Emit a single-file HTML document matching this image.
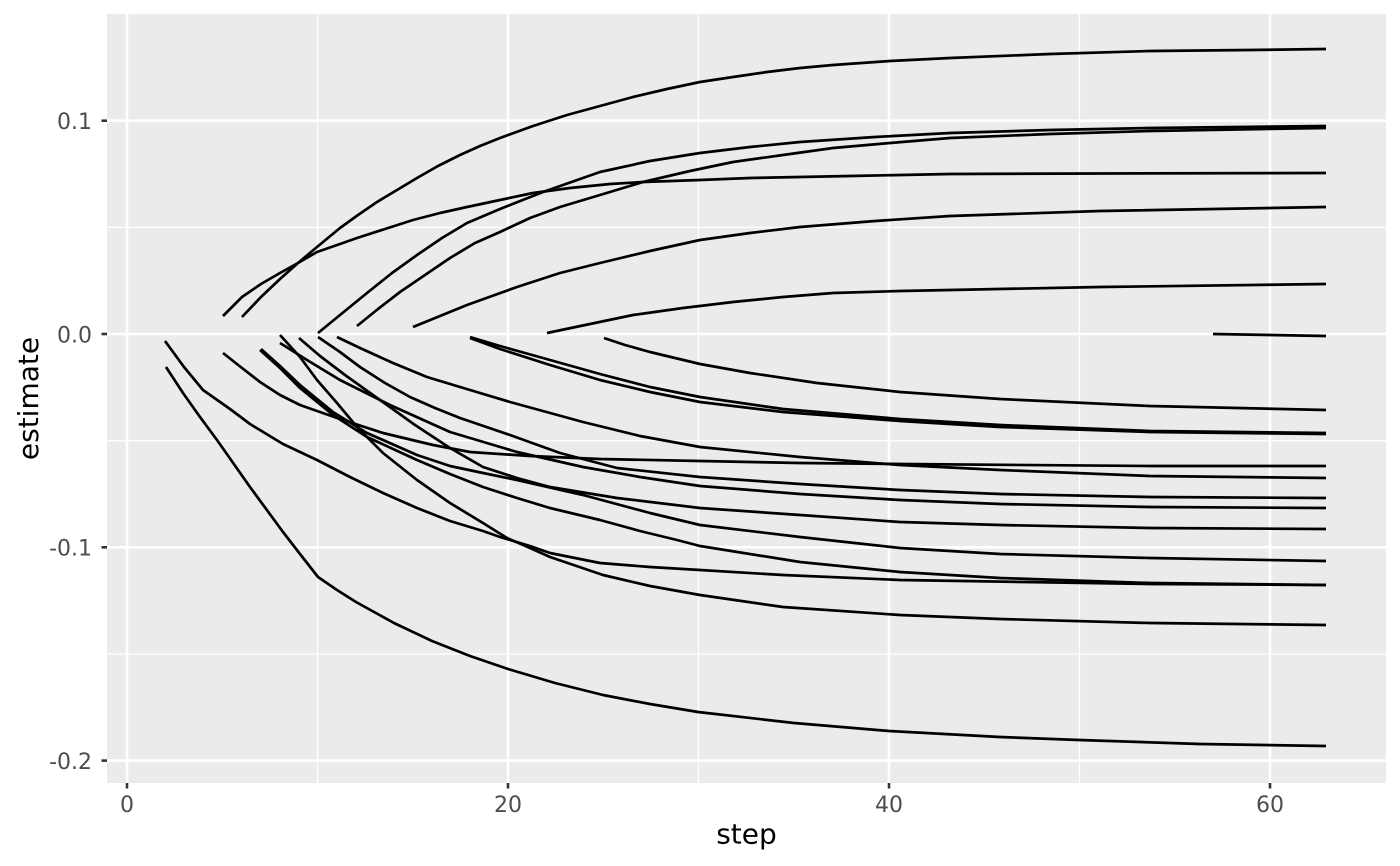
<!DOCTYPE html>
<html>
<head>
<meta charset="utf-8">
<style>
  html, body { margin: 0; padding: 0; background: #ffffff; }
  svg { display: block; }
  .tick { font-family: "DejaVu Sans", "Liberation Sans", sans-serif; font-size: 22px; fill: #4D4D4D; }
  .title { font-family: "DejaVu Sans", "Liberation Sans", sans-serif; font-size: 28px; fill: #000000; }
  .ln { fill: none; stroke: #000000; stroke-width: 2.7; stroke-linejoin: round; stroke-linecap: butt; }
</style>
</head>
<body>
<svg width="1400" height="866" viewBox="0 0 1400 866" xmlns="http://www.w3.org/2000/svg">
  <rect x="0" y="0" width="1400" height="866" fill="#ffffff"/>
  <rect x="107" y="14" width="1279" height="769" fill="#EBEBEB"/>

  <!-- minor grid -->
  <g stroke="#ffffff" stroke-width="1.3">
    <line x1="107" y1="227.4" x2="1386" y2="227.4"/>
    <line x1="107" y1="440.7" x2="1386" y2="440.7"/>
    <line x1="107" y1="654" x2="1386" y2="654"/>
    <line x1="317.5" y1="14" x2="317.5" y2="783"/>
    <line x1="698.5" y1="14" x2="698.5" y2="783"/>
    <line x1="1079.5" y1="14" x2="1079.5" y2="783"/>
  </g>
  <!-- major grid -->
  <g stroke="#ffffff" stroke-width="2.6">
    <line x1="107" y1="120.7" x2="1386" y2="120.7"/>
    <line x1="107" y1="334" x2="1386" y2="334"/>
    <line x1="107" y1="547.3" x2="1386" y2="547.3"/>
    <line x1="107" y1="760.6" x2="1386" y2="760.6"/>
    <line x1="127" y1="14" x2="127" y2="783"/>
    <line x1="508" y1="14" x2="508" y2="783"/>
    <line x1="889" y1="14" x2="889" y2="783"/>
    <line x1="1270" y1="14" x2="1270" y2="783"/>
  </g>

  <!-- positive lines -->
  <polyline class="ln" points="242,317 261,297 280,279 298,263 317,247 340,228 358,215 377,202 397,190 417,178 438,166 460,155 480,146 500,138 533,126 567,115 600,106 633,97 667,89 700,82 733,77 767,72 800,68 833,65 890,61 950,58 1050,54 1150,51 1250,50 1326,49"/>
  <polyline class="ln" points="223,316 242,297 261,284 280,273 298,263 317,252 340,244 357,238 385,229 413,220 440,213 467,207 500,200 533,193 570,188 610,184 643,182 700,180 750,178 850,176 950,174 1100,173.5 1326,173"/>
  <polyline class="ln" points="318,333 340,315 367,293 392,273 417,255 442,238 467,223 500,209 543,192 600,172 650,161 700,153 750,147 800,142 875,137 950,133 1050,130 1150,128 1326,126"/>
  <polyline class="ln" points="357,326 378,309 400,292 425,275 450,258 475,243 500,232 530,218 560,207 600,195 643,182 690,171 733,162 783,155 833,148 890,143 950,138 1050,134 1150,131 1326,128"/>
  <polyline class="ln" points="413,327 440,316 467,305 492,296 517,287 560,273 600,263 650,251 700,240 750,233 800,227 875,221 950,216 1100,211 1326,207"/>
  <polyline class="ln" points="547,333 590,324 633,315 683,308 733,302 783,297 833,293 900,291 950,290 1100,287 1326,284"/>
  <polyline class="ln" points="1213,334 1270,335 1326,336"/>

  <!-- negative lines -->
  <polyline class="ln" points="604,338 625,345 650,352 675,358 700,364 750,373 817,383 900,392 1000,399 1150,406 1326,410"/>
  <polyline class="ln" points="470,337 500,346 550,360 600,374 650,387 700,397 783,409 900,419 1000,425 1150,431 1326,433"/>
  <polyline class="ln" points="470,338 500,349 550,365 600,380 650,392 700,402 783,412 900,421 1000,427 1150,432 1326,434"/>
  <polyline class="ln" points="337,337 360,348 393,363 427,377 460,387 510,402 583,422 640,436 700,447 800,457 900,465 1000,470 1150,476 1326,478"/>
  <polyline class="ln" points="318,337 340,352 360,367 385,383 410,397 435,408 460,418 510,435 560,453 617,468 700,477 800,484 900,490 1000,494 1150,497 1326,498"/>
  <polyline class="ln" points="280,343 307,360 340,380 390,405 450,432 517,452 583,467 640,477 700,486 800,494 900,500 1000,504 1150,507 1326,508"/>
  <polyline class="ln" points="299,338 320,356 345,375 380,400 415,425 450,448 483,467 517,478 550,487 617,498 700,508 800,515 900,522 1000,525 1150,528 1326,529"/>
  <polyline class="ln" points="261,349 280,366 300,385 333,412 367,433 417,455 450,466 483,473 517,480 583,495 650,513 700,525 800,537 900,548 1000,554 1150,558 1326,561"/>
  <polyline class="ln" points="260,350 280,368 300,388 333,415 367,437 417,460 450,474 483,487 517,498 550,508 600,520 640,531 677,540 700,546 800,562 900,572 1000,578 1150,583 1326,585"/>
  <polyline class="ln" points="223,353 242,368 260,382 280,395 300,405 337,418 383,433 433,445 470,452 530,456 600,459 700,461 800,463 900,464 1150,466 1326,466"/>
  <polyline class="ln" points="165,341 184,367 203,390 230,409 250,424 283,444 317,460 350,477 383,493 417,508 450,521 483,531 500,537 530,546 550,553 600,563 650,567 700,570 783,575 900,580 1150,584 1326,585"/>
  <polyline class="ln" points="280,335 300,357 317,380 337,403 357,427 383,453 417,480 450,503 483,523 507,538 530,548 550,557 603,575 650,586 700,595 783,607 900,615 1000,619 1150,623 1326,625"/>
  <polyline class="ln" points="166,367 183,393 200,417 217,440 250,487 283,532 300,554 318,577 337,590 356,602 394,623 432,641 470,656 508,669 555,683 603,695 650,704 698,712 794,723 889,731 1000,737 1079,740 1200,744 1326,746"/>

  <!-- axis ticks -->
  <g stroke="#333333" stroke-width="2.6">
    <line x1="101.5" y1="120.7" x2="107" y2="120.7"/>
    <line x1="101.5" y1="334" x2="107" y2="334"/>
    <line x1="101.5" y1="547.3" x2="107" y2="547.3"/>
    <line x1="101.5" y1="760.6" x2="107" y2="760.6"/>
    <line x1="127" y1="783" x2="127" y2="788.5"/>
    <line x1="508" y1="783" x2="508" y2="788.5"/>
    <line x1="889" y1="783" x2="889" y2="788.5"/>
    <line x1="1270" y1="783" x2="1270" y2="788.5"/>
  </g>

  <!-- y tick labels -->
  <text class="tick" x="92" y="129" text-anchor="end">0.1</text>
  <text class="tick" x="92" y="342.3" text-anchor="end">0.0</text>
  <text class="tick" x="92" y="555.6" text-anchor="end">-0.1</text>
  <text class="tick" x="92" y="768.9" text-anchor="end">-0.2</text>

  <!-- x tick labels -->
  <text class="tick" x="127" y="812" text-anchor="middle">0</text>
  <text class="tick" x="508" y="812" text-anchor="middle">20</text>
  <text class="tick" x="889" y="812" text-anchor="middle">40</text>
  <text class="tick" x="1270" y="812" text-anchor="middle">60</text>

  <!-- axis titles -->
  <text class="title" x="746.5" y="843.5" text-anchor="middle">step</text>
  <text class="title" transform="translate(38,398.5) rotate(-90)" x="0" y="0" text-anchor="middle">estimate</text>
</svg>
</body>
</html>
